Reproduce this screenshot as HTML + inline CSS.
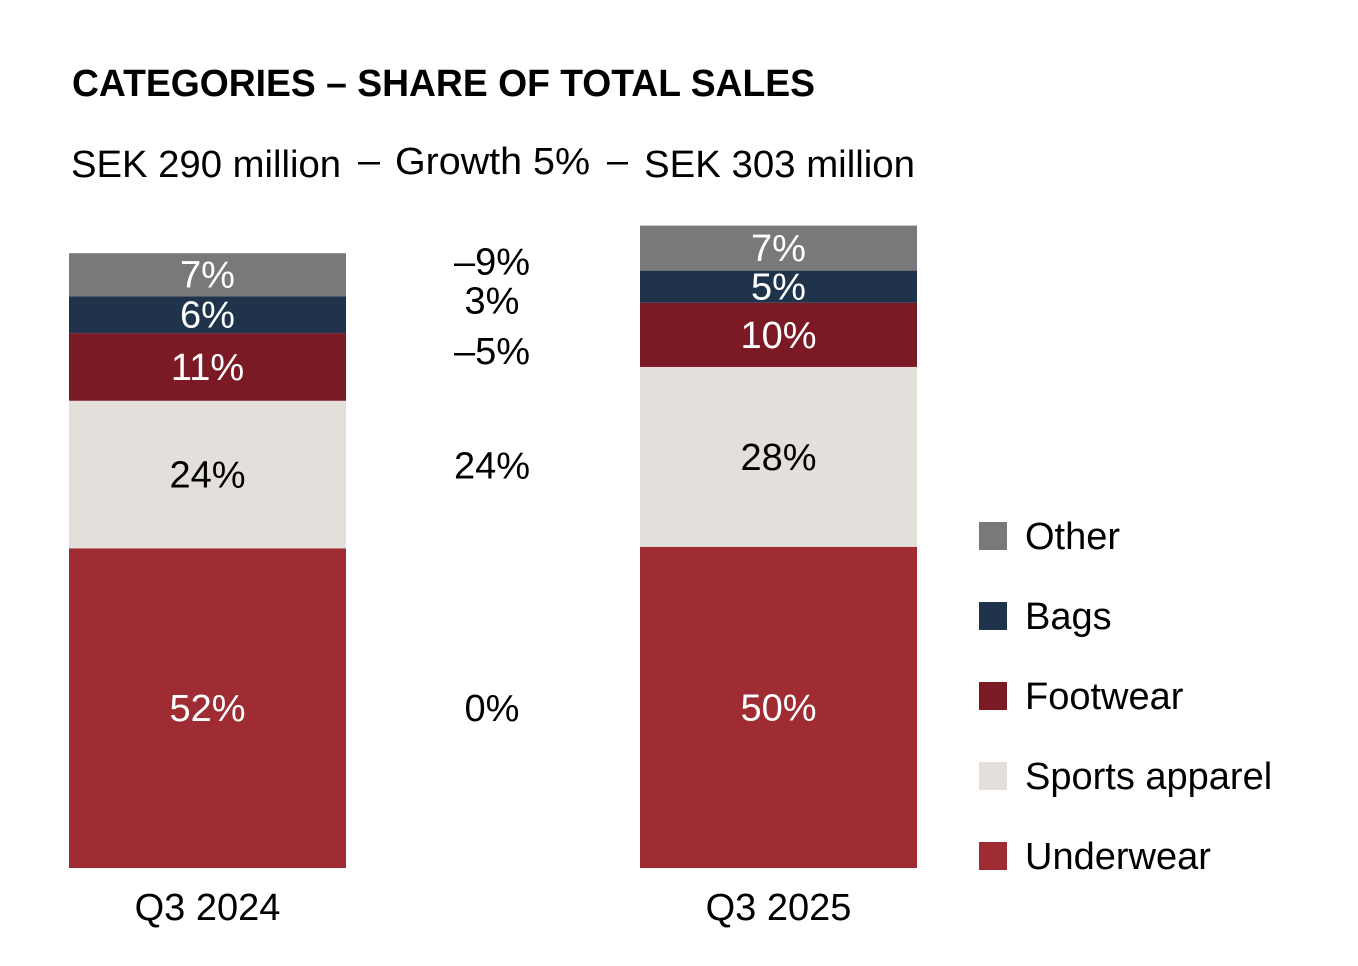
<!DOCTYPE html>
<html><head><meta charset="utf-8"><style>
html,body{margin:0;padding:0;background:#fff;}
svg{display:block;font-family:"Liberation Sans",sans-serif;}
</style></head><body>
<svg id="chart" width="1358" height="966" viewBox="0 0 1358 966">
<text x="72" y="96" font-size="38" font-weight="bold" fill="#000" textLength="743" lengthAdjust="spacingAndGlyphs">CATEGORIES – SHARE OF TOTAL SALES</text>
<text x="71" y="177" font-size="38" fill="#000" textLength="270" lengthAdjust="spacingAndGlyphs">SEK 290 million</text>
<text x="358" y="173" font-size="38" fill="#000" textLength="22" lengthAdjust="spacingAndGlyphs">—</text>
<text x="395" y="174" font-size="38" fill="#000" textLength="195" lengthAdjust="spacingAndGlyphs">Growth 5%</text>
<text x="607" y="173" font-size="38" fill="#000" textLength="21" lengthAdjust="spacingAndGlyphs">—</text>
<text x="644" y="177" font-size="38" fill="#000" textLength="271" lengthAdjust="spacingAndGlyphs">SEK 303 million</text>
<g id="bars"></g>
<g id="legend"></g>
</svg>
<script>
const categories = ["Underwear","Sports apparel","Footwear","Bags","Other"];
const periods = ["Q3 2024","Q3 2025"];
const totals = [290, 303];
const share2024 = [52, 24, 11, 6, 7];
const share2025 = [50, 28, 10, 5, 7];
const growth = [0, 24, -5, 3, -9];
const colors = ["#9e2c32","#e3dfda","#7b1a24","#1f334b","#79797b"];
const textColors = ["#fff","#000","#fff","#fff","#fff"];

const NS = "http://www.w3.org/2000/svg";
const baseY = 868, pxPerM = 2.12, barW = 277;
const barX = [69, 640];
const yScale = v => v * pxPerM;
const shares = [share2024, share2025];
const g = document.getElementById("bars");
function mk(tag, attrs, parent){const e=document.createElementNS(NS,tag);for(const k in attrs)e.setAttribute(k,attrs[k]);parent.appendChild(e);return e;}
const centers = [[],[]];
shares.forEach((arr, bi) => {
  const total = yScale(totals[bi]);
  const sum = arr.reduce((a,b)=>a+b,0);
  let y = baseY;
  arr.forEach((v, i) => {
    const h = total * v / sum;
    const r = mk("rect",{x:barX[bi],y:y-h,width:barW,height:h,fill:colors[i]},g);
    
    
    const cy = y - h/2;
    centers[bi].push(cy);
    const t = mk("text",{x:barX[bi]+barW/2,y:cy+13,"font-size":38,"text-anchor":"middle",fill:textColors[i]},g);
    t.textContent = v + "%";
    
    
    y -= h;
  });
  const pl = mk("text",{x:barX[bi]+barW/2,y:920,"font-size":38,"text-anchor":"middle",fill:"#000"},g);
  pl.textContent = periods[bi];
  
  
});
growth.forEach((v, i) => {
  const cy = (centers[0][i] + centers[1][i]) / 2;
  const t = mk("text",{x:492,y:cy+13,"font-size":38,"text-anchor":"middle",fill:"#000"},g);
  t.textContent = (v < 0 ? "–" + Math.abs(v) : v) + "%";
  
  
});
const lg = document.getElementById("legend");
const legendY = [870, 790, 710, 630, 550];
categories.forEach((c, i) => {
  const e = mk("g",{},lg);
  
  
  mk("rect",{x:979,y:legendY[i]-28,width:28,height:28,fill:colors[i]},e);
  const t = mk("text",{x:1025,y:legendY[i]-1,"font-size":38,fill:"#000"},e);
  t.textContent = c;
});
</script>
</body></html>
